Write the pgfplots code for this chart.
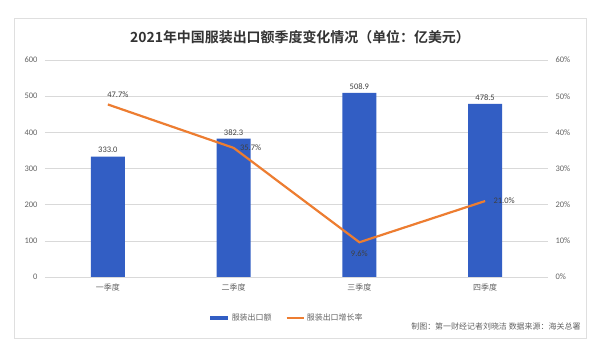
\documentclass[border=0pt]{standalone}
\usepackage{fontspec}
\usepackage{pgfplots}
\pgfplotsset{compat=1.18}
\setmainfont{Carlito}
\newfontfamily\cjk{Noto Sans CJK SC}
\newfontfamily\cjkb{Noto Sans CJK SC Bold}
\definecolor{barblue}{RGB}{50,94,196}
\definecolor{lineorange}{RGB}{237,125,49}
\definecolor{txtgray}{RGB}{100,100,100}
\definecolor{gridgray}{RGB}{217,217,217}
\begin{document}
\begin{tikzpicture}
\useasboundingbox (0,0) rectangle (600bp,355bp);
\fill[white] (0,0) rectangle (600bp,355bp);
\draw[gray!25, line width=0.8bp] (14bp,17bp) rectangle (586bp,337bp);
\node[font=\cjkb\fontsize{14}{16}\selectfont, text=black!80] at (300bp,318bp) {2021年中国服装出口额季度变化情况（单位：亿美元）};
\begin{axis}[
  at={(45bp,78bp)}, anchor=south west,
  scale only axis, width=503bp, height=217bp,
  xmin=-0.5, xmax=3.5, ymin=0, ymax=600,
  xtick={0,1,2,3},
  xticklabels={一季度,二季度,三季度,四季度},
  xticklabel style={font=\cjk\fontsize{8}{9}\selectfont, text=txtgray},
  ytick={0,100,...,600},
  yticklabel style={font=\fontsize{8.5}{9}\selectfont, text=txtgray},
  /pgf/number format/assume math mode=true,
  ymajorgrids, grid style={gridgray, line width=0.6bp},
  axis line style={draw=none},
  major tick length=0pt,
  yticklabel shift=4bp, xticklabel shift=3bp,
  ybar, bar width=34bp,
  nodes near coords={\pgfmathprintnumber[fixed,fixed zerofill,precision=1]{\pgfplotspointmeta}},
  every node near coord/.append style={font=\fontsize{8.5}{9}\selectfont, text=black!75},
  clip=false,
]
\addplot[fill=barblue, draw=none] coordinates {(0,333.0) (1,382.3) (2,508.9) (3,478.5)};
\end{axis}
\begin{axis}[
  at={(45bp,78bp)}, anchor=south west,
  scale only axis, width=503bp, height=217bp,
  xmin=-0.5, xmax=3.5, ymin=0, ymax=60,
  axis y line*=right, axis x line=none,
  ytick={0,10,...,60},
  yticklabel={\pgfmathprintnumber{\tick}\%},
  yticklabel style={font=\fontsize{8.5}{9}\selectfont, text=txtgray},
  /pgf/number format/assume math mode=true,
  axis line style={draw=none},
  major tick length=0pt,
  yticklabel shift=4bp,
  clip=false,
  legend columns=2,
  legend style={draw=none, fill=none, at={(0.48,-0.19)}, anchor=center,
    font=\cjk\fontsize{8}{9}\selectfont, text=txtgray,
    /tikz/every even column/.append style={column sep=12bp}},
]
\addlegendimage{legend image code/.code={\draw[barblue, line width=3.5bp] (0bp,0bp) -- (18bp,0bp);}}
\addlegendentry{服装出口额}
\addplot[lineorange, line width=2.2bp, mark=none] coordinates {(0,47.7) (1,35.7) (2,9.6) (3,21.0)};
\addlegendentry{服装出口增长率}
\node[font=\fontsize{8.5}{9}\selectfont, text=black!75, anchor=south, xshift=10bp, yshift=3bp] at (axis cs:0,47.7) {47.7\%};
\node[font=\fontsize{8.5}{9}\selectfont, text=black!75, anchor=west, xshift=3bp] at (axis cs:1,35.7) {35.7\%};
\node[font=\fontsize{8.5}{9}\selectfont, text=black!75, anchor=north, yshift=-5bp] at (axis cs:2,9.6) {9.6\%};
\node[font=\fontsize{8.5}{9}\selectfont, text=black!75, anchor=west, xshift=5bp] at (axis cs:3,21.0) {21.0\%};
\end{axis}
\node[font=\cjk\fontsize{8}{9}\selectfont, text=txtgray, anchor=east] at (584bp,29bp) {制图：第一财经记者刘晓洁 数据来源：海关总署};
\end{tikzpicture}
\end{document}
